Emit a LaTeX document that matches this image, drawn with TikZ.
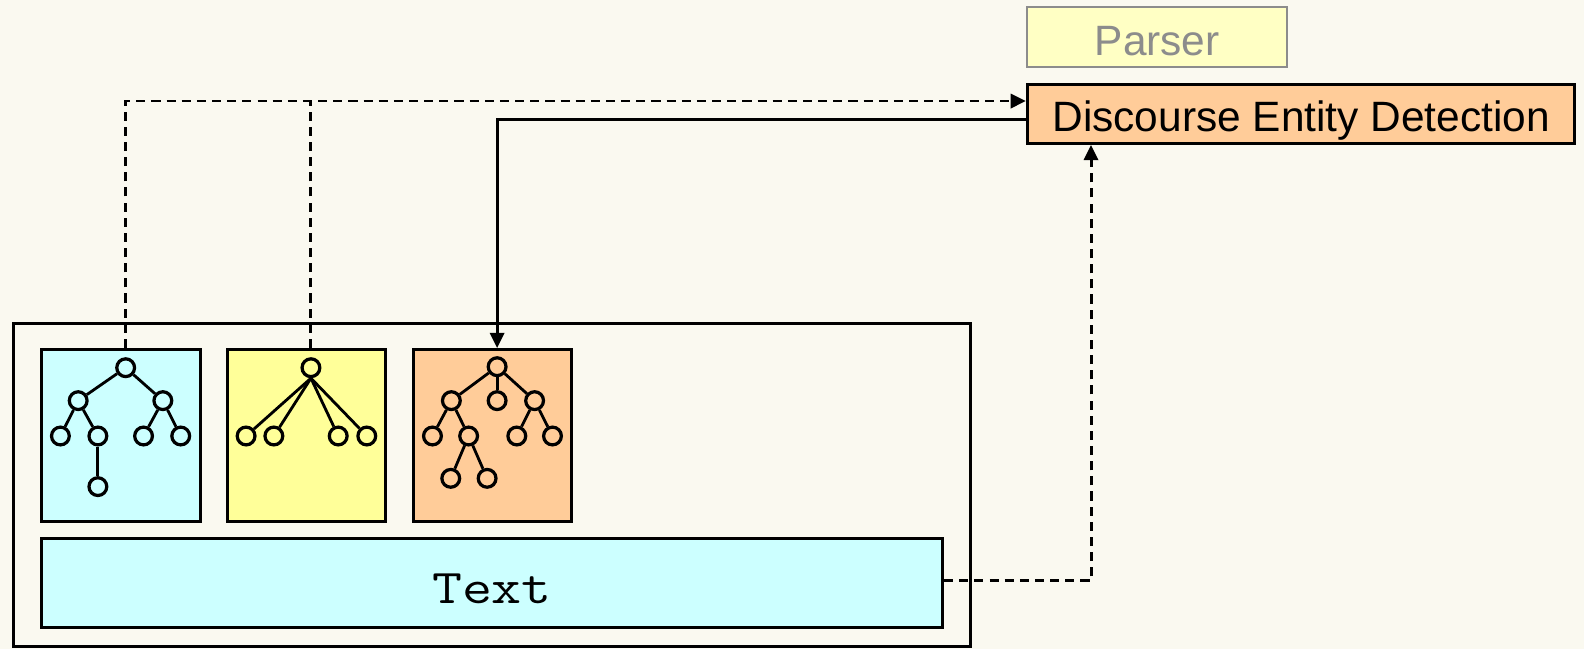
\documentclass[tikz,border=0pt]{standalone}
\usepackage{graphicx}
\usepackage{fontspec}
\setmainfont{Liberation Sans}
\usetikzlibrary{arrows.meta,calc}
\definecolor{bg}{HTML}{FAF9F0}
\definecolor{cyanfill}{HTML}{CCFFFF}
\definecolor{yellowfill}{HTML}{FFFF99}
\definecolor{orangefill}{HTML}{FFCC99}
\definecolor{parserfill}{HTML}{FFFFC4}
\definecolor{parsergray}{HTML}{8C8C8C}
\begin{document}
\begin{tikzpicture}[x=0.5pt,y=-0.5pt,
  box/.style={draw=black,line width=1.5pt,inner sep=0pt,rectangle},
  treebox/.style={box,minimum width=78.5pt,minimum height=85pt},
  tn/.style={circle,draw=black,line width=1.6pt,minimum size=8.8pt,inner sep=0pt},
  te/.style={line width=1.4pt},
  conn/.style={line width=1.45pt},
  dashconn/.style={conn,dash pattern=on 4.5pt off 3pt},
  tip/.style={-{Triangle[length=7.5pt,width=7pt]}}
]
\fill[bg] (0,0) rectangle (1568,642);
\useasboundingbox (0,0) rectangle (1568,642);

% top boxes
\node[draw=parsergray,line width=1pt,fill=parserfill,minimum width=128.5pt,minimum height=29.5pt,inner sep=0pt,
  text=parsergray,font=\fontsize{21pt}{25pt}\selectfont] (parser) at (1145.5,36.5) {\raisebox{-9pt}[0pt][0pt]{Parser}};
\node[box,fill=orangefill,minimum width=271pt,minimum height=29pt,
  font=\fontsize{21pt}{25pt}\selectfont] (ded) at (1288,113) {\raisebox{-8.7pt}[0pt][0pt]{Discourse Entity Detection}};

% outer container
\node[box,minimum width=474pt,minimum height=160pt] (outer) at (487,480) {};

% tree boxes
\node[treebox,fill=cyanfill] (t1) at (119.5,431) {};
\node[treebox,fill=yellowfill] (t2) at (303.5,431) {};
\node[treebox,fill=orangefill] (t3) at (487.5,431) {};

% text box
\node[box,fill=cyanfill,minimum width=446pt,minimum height=44pt,
  font=\ttfamily\fontsize{24pt}{28pt}\selectfont] (textbox) at (487,577) {\raisebox{-10pt}[0pt][0pt]{\scalebox{1.2}[1]{Text}}};

% tree 1
\node[tn] (a) at (124.4,364) {};
\node[tn] (aL) at (77.4,396.6) {};
\node[tn] (aR) at (161.2,396.6) {};
\node[tn] (aLL) at (59.8,431.6) {};
\node[tn] (aLR) at (96.9,431.6) {};
\node[tn] (aRL) at (142.1,431.6) {};
\node[tn] (aRR) at (178.9,431.6) {};
\node[tn] (aLRc) at (96.9,481.7) {};
\draw[te] (a) -- (aL); \draw[te] (a) -- (aR);
\draw[te] (aL) -- (aLL); \draw[te] (aL) -- (aLR);
\draw[te] (aR) -- (aRL); \draw[te] (aR) -- (aRR);
\draw[te] (aLR) -- (aLRc);

% tree 2
\node[tn] (b) at (307.8,364) {};
\node[tn] (b1) at (243.6,431.6) {};
\node[tn] (b2) at (271.1,431.6) {};
\node[tn] (b3) at (334.8,431.6) {};
\node[tn] (b4) at (363.1,431.6) {};
\foreach \c in {b1,b2,b3,b4} \draw[te] (b.south) -- (\c);

% tree 3
\node[tn] (c) at (492.1,363) {};
\node[tn] (cL) at (446.8,396.6) {};
\node[tn] (cM) at (492.1,396.6) {};
\node[tn] (cR) at (529.2,396.6) {};
\node[tn] (cLL) at (428.1,431.6) {};
\node[tn] (cLR) at (463.9,431.6) {};
\node[tn] (cRL) at (511.6,431.6) {};
\node[tn] (cRR) at (546.9,431.6) {};
\node[tn] (cLR1) at (446.2,473.5) {};
\node[tn] (cLR2) at (482.2,473.5) {};
\draw[te] (c) -- (cL); \draw[te] (c) -- (cM); \draw[te] (c) -- (cR);
\draw[te] (cL) -- (cLL); \draw[te] (cL) -- (cLR);
\draw[te] (cR) -- (cRL); \draw[te] (cR) -- (cRR);
\draw[te] (cLR) -- (cLR1); \draw[te] (cLR) -- (cLR2);

% connectors
\coordinate (dedin) at ([yshift=6.5pt]ded.west);
\coordinate (dedout) at ([yshift=-2.5pt]ded.west);
\coordinate (dedbot) at ([xshift=-104pt]ded.south);
\draw[dashconn,tip] (a |- t1.north) |- (dedin);
\draw[dashconn] (b |- t2.north) -- (b |- dedin);
\draw[conn,tip] (dedout) -| (c |- t3.north);
\draw[dashconn,tip] ([yshift=1pt]textbox.east) -| (dedbot);
\end{tikzpicture}
\end{document}
